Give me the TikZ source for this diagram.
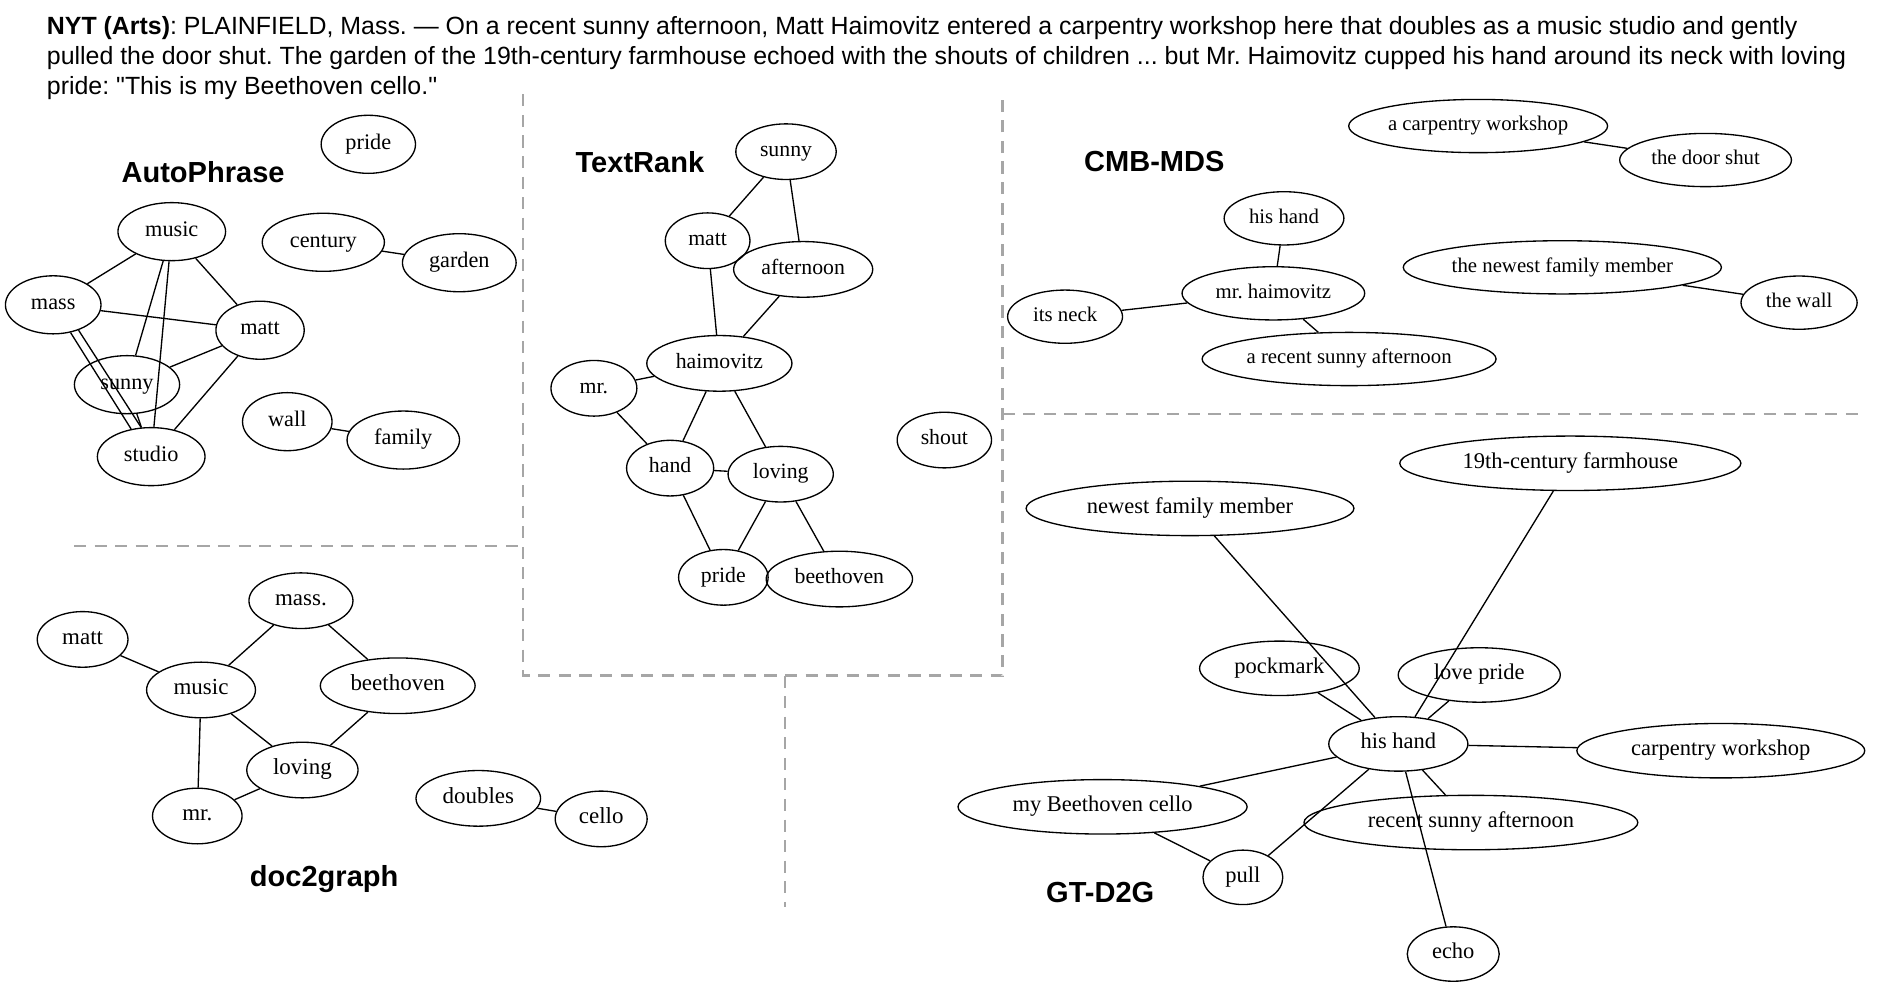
\documentclass[tikz,border=0pt]{standalone}
\usepackage{fontspec}
\setmainfont{Liberation Serif}
\setsansfont{Liberation Sans}[Ligatures=TeXOff]
\usetikzlibrary{shapes.geometric}
\frenchspacing

\begin{document}
\begin{tikzpicture}[
    x = 1pt, y = -1pt,
    kw/.style = {ellipse, draw, line width=1.1pt, inner sep=0pt, text height=0.78em, text depth=0em, minimum width=#1pt},
    ap/.style = {kw=#1, minimum height=48pt, font=\fontsize{18.4}{22}\selectfont},
    tr/.style = {kw=#1, minimum height=46pt, font=\fontsize{18}{22}\selectfont},
    cm/.style = {kw=#1, minimum height=44pt, font=\fontsize{17.2}{21}\selectfont},
    dg/.style = {kw=#1, minimum height=46pt, font=\fontsize{19}{23}\selectfont},
    gt/.style = {kw=#1, minimum height=45pt, font=\fontsize{18.6}{22}\selectfont},
    method/.style = {anchor=base, inner sep=0pt, font=\sffamily\bfseries\fontsize{24}{28}\selectfont},
    lede/.style = {anchor=base west, inner sep=0pt, font=\sffamily\fontsize{20.6}{24.8}\selectfont},
    split/.style = {draw=black!35, line width=2.2pt, dash pattern=on 10pt off 7pt},
    link/.style = {line width=1.1pt}
]
    \useasboundingbox (0,0) rectangle (1560,816);

    \node[lede] (lede1) at (38.6,28.9) {\textbf{NYT (Arts)}: PLAINFIELD, Mass. — On a recent sunny afternoon, Matt Haimovitz entered a carpentry workshop here that doubles as a music studio and gently};
    \node[lede] (lede2) at (38.6,53.7) {pulled the door shut. The garden of the 19th-century farmhouse echoed with the shouts of children ... but Mr. Haimovitz cupped his hand around its neck with loving};
    \node[lede] (lede3) at (38.6,78.5) {pride: "This is my Beethoven cello."};

    \draw[split] (61.2,451.4) -- (432.5,451.4);
    \draw[split] (432.5,78) -- (432.5,558.5) -- (829,558.5) -- (829,78);
    \draw[split] (829,342.3) -- (1542,342.3);
    \draw[split] (649,558.5) -- (649,750);

    \node[method] (autophrase) at (167.9,151) {AutoPhrase};
    \node[ap=78] (appride) at (304.5,119.3) {pride};
    \node[ap=89] (apmusic) at (142,191.5) {music};
    \node[ap=101] (apcentury) at (267.3,200.3) {century};
    \node[ap=94] (apgarden) at (379.7,217.2) {garden};
    \node[ap=79] (apmass) at (44,252) {mass};
    \node[ap=73] (apmatt) at (215,273) {matt};
    \node[ap=87] (apsunny) at (105,318) {sunny};
    \node[ap=74] (apwall) at (237.5,348.6) {wall};
    \node[ap=93] (apfamily) at (333.4,363.8) {family};
    \node[ap=89] (apstudio) at (125,377.5) {studio};
    \draw[link] (apmusic) -- (apmass);
    \draw[link] (apmusic) -- (apmatt);
    \draw[link] (apmusic) -- (apsunny);
    \draw[link] (apmusic) -- (apstudio);
    \draw[link] (apmass) -- (apmatt);
    \draw[link] (apmass.-58) -- (apstudio.126);
    \draw[link] (apmass.-45) -- (apstudio.109);
    \draw[link] (apmatt) -- (apsunny);
    \draw[link] (apmatt) -- (apstudio);
    \draw[link] (apsunny) -- (apstudio);
    \draw[link] (apcentury) -- (apgarden);
    \draw[link] (apwall) -- (apfamily);

    \node[method] (textrank) at (529,142.5) {TextRank};
    \node[tr=83] (trsunny) at (649.8,125.4) {sunny};
    \node[tr=70] (trmatt) at (585,199) {matt};
    \node[tr=115] (trafternoon) at (664,222.7) {afternoon};
    \node[tr=120] (trhaimovitz) at (594.7,300.4) {haimovitz};
    \node[tr=71] (trmr) at (491,321) {mr.};
    \node[tr=72] (trhand) at (554,387) {hand};
    \node[tr=87] (trloving) at (645.4,392) {loving};
    \node[tr=74] (trpride) at (598,477.3) {pride};
    \node[tr=121] (trbeethoven) at (693.9,478.7) {beethoven};
    \node[tr=78] (trshout) at (780.7,363.8) {shout};
    \draw[link] (trsunny) -- (trmatt);
    \draw[link] (trsunny) -- (trafternoon);
    \draw[link] (trmatt) -- (trhaimovitz);
    \draw[link] (trafternoon) -- (trhaimovitz);
    \draw[link] (trhaimovitz) -- (trmr);
    \draw[link] (trmr) -- (trhand);
    \draw[link] (trhaimovitz) -- (trhand);
    \draw[link] (trhaimovitz) -- (trloving);
    \draw[link] (trhand) -- (trloving);
    \draw[link] (trhand) -- (trpride);
    \draw[link] (trloving) -- (trpride);
    \draw[link] (trloving) -- (trbeethoven);

    \node[method] (cmbmds) at (954.3,141.9) {CMB-MDS};
    \node[cm=214] (cmworkshop) at (1222,104.2) {a carpentry workshop};
    \node[cm=142] (cmdoor) at (1410,132.3) {the door shut};
    \node[cm=99] (cmhand) at (1061.5,180.5) {his hand};
    \node[cm=151] (cmhaimovitz) at (1052.7,242.5) {mr. haimovitz};
    \node[cm=95] (cmneck) at (880.5,261.8) {its neck};
    \node[cm=263] (cmmember) at (1291.6,221) {the newest family member};
    \node[cm=96] (cmwall) at (1487.3,250.2) {the wall};
    \node[cm=243] (cmafternoon) at (1115.3,296.8) {a recent sunny afternoon};
    \draw[link] (cmworkshop) -- (cmdoor);
    \draw[link] (cmhand) -- (cmhaimovitz);
    \draw[link] (cmhaimovitz) -- (cmneck);
    \draw[link] (cmhaimovitz) -- (cmafternoon);
    \draw[link] (cmmember) -- (cmwall);

    \node[method] (doctograph) at (268,733) {doc2graph};
    \node[dg=86] (dgmass) at (248.8,496.6) {mass.};
    \node[dg=75] (dgmatt) at (68.3,528.6) {matt};
    \node[dg=90] (dgmusic) at (166.2,570.4) {music};
    \node[dg=128] (dgbeethoven) at (328.8,566.9) {beethoven};
    \node[dg=92] (dgloving) at (250,636.6) {loving};
    \node[dg=74] (dgmr) at (163.1,674.6) {mr.};
    \node[dg=103] (dgdoubles) at (395.4,660) {doubles};
    \node[dg=76] (dgcello) at (497,677) {cello};
    \draw[link] (dgmass) -- (dgmusic);
    \draw[link] (dgmass) -- (dgbeethoven);
    \draw[link] (dgmatt) -- (dgmusic);
    \draw[link] (dgmusic) -- (dgloving);
    \draw[link] (dgmusic) -- (dgmr);
    \draw[link] (dgbeethoven) -- (dgloving);
    \draw[link] (dgloving) -- (dgmr);
    \draw[link] (dgdoubles) -- (dgcello);

    \node[method] (gtdtwog) at (909.6,746.2) {GT-D2G};
    \node[gt=282] (gtfarmhouse) at (1298.2,383) {19th-century farmhouse};
    \node[gt=271] (gtmember) at (983.8,420.3) {newest family member};
    \node[gt=132] (gtpockmark) at (1057.7,552.5) {pockmark};
    \node[gt=134] (gtlove) at (1222.9,558) {love pride};
    \node[gt=115] (gthand) at (1156,615) {his hand};
    \node[gt=238] (gtworkshop) at (1422.6,620.6) {carpentry workshop};
    \node[gt=239] (gtcello) at (911.5,667) {my Beethoven cello};
    \node[gt=276] (gtafternoon) at (1216,680) {recent sunny afternoon};
    \node[gt=66] (gtpull) at (1027.5,725.3) {pull};
    \node[gt=76] (gtecho) at (1201.4,788.7) {echo};
    \draw[link] (gthand) -- (gtmember);
    \draw[link] (gthand) -- (gtfarmhouse);
    \draw[link] (gthand) -- (gtpockmark);
    \draw[link] (gthand) -- (gtlove);
    \draw[link] (gthand) -- (gtworkshop);
    \draw[link] (gthand) -- (gtcello);
    \draw[link] (gthand) -- (gtafternoon);
    \draw[link] (gthand) -- (gtpull);
    \draw[link] (gthand) -- (gtecho);
    \draw[link] (gtcello) -- (gtpull);
\end{tikzpicture}
\end{document}
